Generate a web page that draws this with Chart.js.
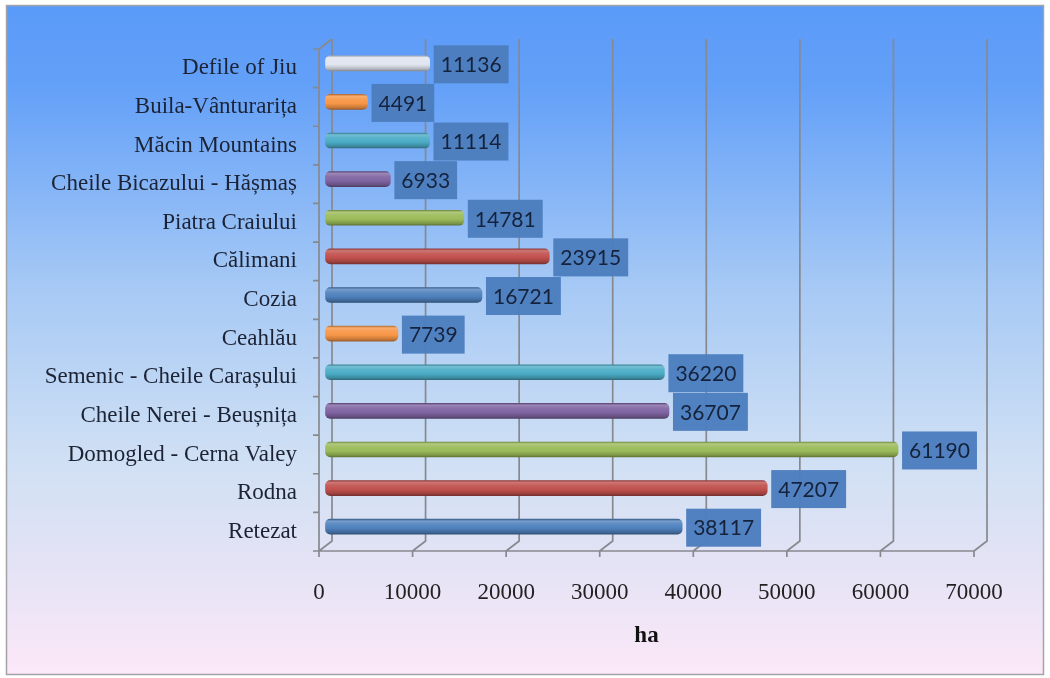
<!DOCTYPE html>
<html>
<head>
<meta charset="utf-8">
<script src="https://cdn.jsdelivr.net/npm/chart.js@4/dist/chart.umd.min.js"></script>
<style>
html,body{margin:0;padding:0;background:#fff;}
canvas{display:block;}
</style>
</head>
<body>
<canvas id="c" width="1050" height="678"></canvas>
<script>
// ---- data (top to bottom as displayed) ----
const categories = [
  "Defile of Jiu",
  "Buila-Vânturarița",
  "Măcin Mountains",
  "Cheile Bicazului - Hășmaș",
  "Piatra Craiului",
  "Călimani",
  "Cozia",
  "Ceahlău",
  "Semenic - Cheile Carașului",
  "Cheile Nerei - Beușnița",
  "Domogled - Cerna Valey",
  "Rodna",
  "Retezat"
];
const areaHa = [11136, 4491, 11114, 6933, 14781, 23915, 16721, 7739, 36220, 36707, 61190, 47207, 38117];
const barColors = ["#dfe4ef", "#f79646", "#4bacc6", "#8064a2", "#9bbb59", "#c0504d", "#4f81bd",
                   "#f79646", "#4bacc6", "#8064a2", "#9bbb59", "#c0504d", "#4f81bd"];
const xTicks = [0, 10000, 20000, 30000, 40000, 50000, 60000, 70000];
const axisTitle = "ha";

// ---- helpers ----
function hexToRgb(h){h=h.replace('#','');return [parseInt(h.substr(0,2),16),parseInt(h.substr(2,2),16),parseInt(h.substr(4,2),16)];}
function mix(h, t, amt){const c=hexToRgb(h);const m=t==='w'?255:0;return 'rgb('+c.map(v=>Math.round(v+(m-v)*amt)).join(',')+')';}

const BAR_T = 15;     // bar thickness
const DX = 13, DY = 10; // 3D depth of back wall

const bgPlugin = {
  id: 'bg',
  beforeDraw(chart){
    const ctx = chart.ctx, W = chart.width, H = chart.height;
    ctx.save();
    ctx.fillStyle = '#fff'; ctx.fillRect(0,0,W,H);
    const g = ctx.createLinearGradient(0,5,0,675);
    g.addColorStop(0, '#5a9af8');
    g.addColorStop(0.12, '#63a0f8');
    g.addColorStop(0.42, '#a6c9f5');
    g.addColorStop(0.68, '#d0e0f4');
    g.addColorStop(0.84, '#e4e3f5');
    g.addColorStop(1, '#fce8f8');
    ctx.fillStyle = g;
    ctx.fillRect(6,5,1038,670);
    ctx.strokeStyle = '#a3a3a8'; ctx.lineWidth = 1.5;
    ctx.strokeRect(6.5,5.5,1037,669);
    ctx.restore();
  }
};

const gridPlugin = {
  id: 'grid3d',
  beforeDatasetsDraw(chart){
    const ctx = chart.ctx, a = chart.chartArea, xs = chart.scales.x;
    ctx.save();
    ctx.strokeStyle = '#88898f';
    ctx.lineWidth = 1.7;
    ctx.beginPath();
    xTicks.forEach(v=>{
      const xf = xs.getPixelForValue(v);
      ctx.moveTo(xf+DX, a.top-DY); ctx.lineTo(xf+DX, a.bottom-DY);
      ctx.lineTo(xf, a.bottom);
      ctx.moveTo(xf, a.bottom); ctx.lineTo(xf, a.bottom+6);
    });
    ctx.moveTo(a.left, a.bottom); ctx.lineTo(a.right, a.bottom);
    ctx.moveTo(a.left, a.bottom); ctx.lineTo(a.left, a.top); ctx.lineTo(a.left+DX, a.top-DY);
    const n = categories.length;
    for(let i=0;i<=n;i++){
      const y = a.top + i*(a.bottom-a.top)/n;
      ctx.moveTo(a.left-6, y); ctx.lineTo(a.left, y);
    }
    ctx.stroke();
    ctx.restore();
    // shift bars to mid-depth
    ctx.save();
    ctx.translate(6.5, -5);
  },
  afterDatasetsDraw(chart){
    const ctx = chart.ctx;
    const meta = chart.getDatasetMeta(0);
    ctx.font = '21px Lato';
    ctx.textBaseline = 'middle';
    ctx.textAlign = 'left';
    meta.data.forEach((bar,i)=>{
      const txt = String(areaHa[i]);
      const w = ctx.measureText(txt).width + 14;
      const h = 38;
      const x0 = bar.x + 4;
      const y0 = bar.y + 1 - h/2;
      ctx.fillStyle = 'rgba(76,126,190,0.97)';
      ctx.fillRect(x0, y0, w, h);
      ctx.fillStyle = '#15223c';
      ctx.fillText(txt, x0+7, bar.y+2);
    });
    ctx.restore();
  }
};

new Chart(document.getElementById('c'), {
  type: 'bar',
  data: {
    labels: categories,
    datasets: [{
      data: areaHa,
      clip: false,
      barThickness: BAR_T,
      borderRadius: 5,
      borderSkipped: false,
      borderWidth: 0,
      backgroundColor: (c)=>{
        const base = barColors[c.dataIndex] || '#4f81bd';
        const ys = c.chart.scales && c.chart.scales.y;
        if(!ys || !c.chart.chartArea) return base;
        const yc = ys.getPixelForValue(c.dataIndex);
        const g = c.chart.ctx.createLinearGradient(0, yc-BAR_T/2, 0, yc+BAR_T/2);
        g.addColorStop(0, mix(base,'b',0.25));
        g.addColorStop(0.12, mix(base,'w',0.22));
        g.addColorStop(0.32, mix(base,'w',0.08));
        g.addColorStop(0.6, base);
        g.addColorStop(0.88, mix(base,'b',0.2));
        g.addColorStop(1, mix(base,'b',0.38));
        return g;
      }
    }]
  },
  options: {
    indexAxis: 'y',
    responsive: false,
    animation: false,
    layout: { padding: { left: 0, top: 49, right: 76, bottom: 0 } },
    plugins: { legend: { display: false }, tooltip: { enabled: false } },
    scales: {
      x: {
        min: 0, max: 70000,
        afterBuildTicks(s){ s.ticks = xTicks.map(v=>({value:v})); },
        grid: { display: false, drawTicks: false },
        border: { display: false },
        ticks: {
          padding: 28,
          color: '#222',
          font: { family: 'Liberation Serif', size: 23 },
          maxRotation: 0,
          callback: (v)=>String(v)
        },
        title: {
          display: true, text: axisTitle, color: '#111',
          font: { family: 'Liberation Serif', size: 23, weight: 'bold' },
          padding: { top: 0, bottom: 28 }
        },
        afterFit(s){ s.height = 127; }
      },
      y: {
        grid: { display: false, drawTicks: false },
        border: { display: false },
        ticks: {
          autoSkip: false,
          padding: 22,
          color: '#1c2335',
          font: { family: 'Liberation Serif', size: 23 }
        },
        afterFit(s){ s.width = 319; }
      }
    }
  },
  plugins: [bgPlugin, gridPlugin]
});
</script>
</body>
</html>
